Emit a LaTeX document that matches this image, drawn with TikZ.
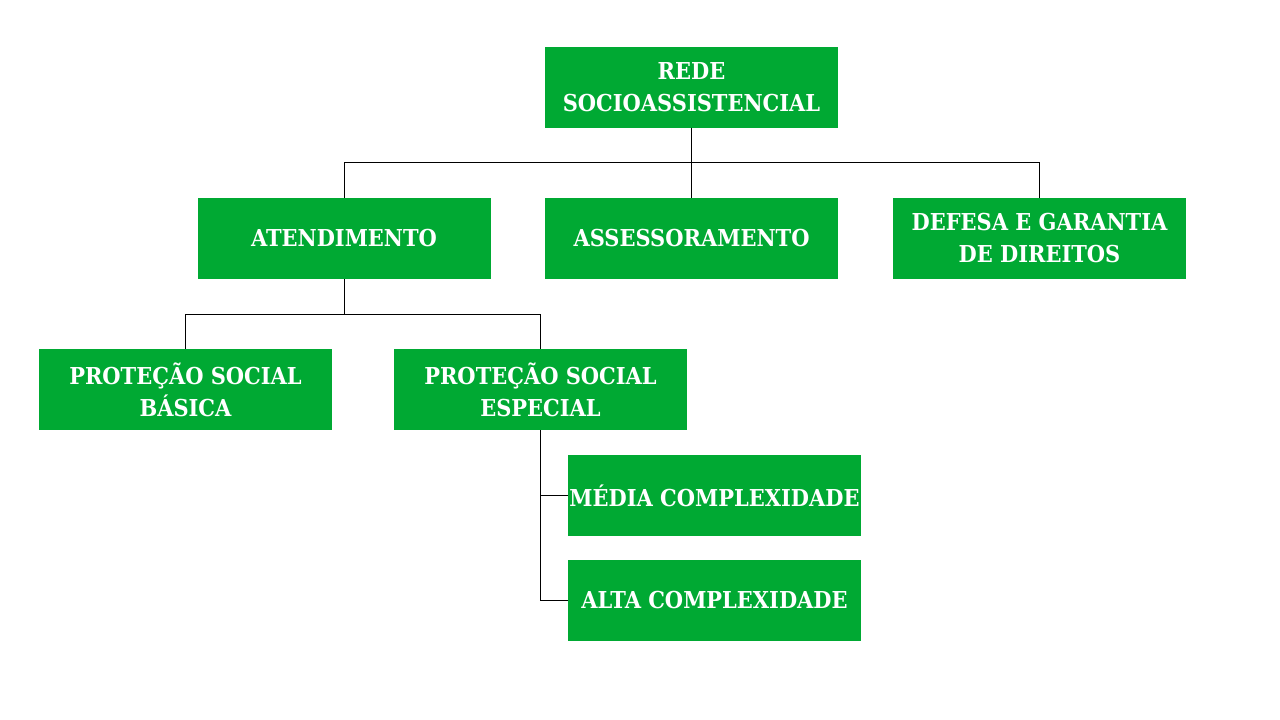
\documentclass[tikz,border=0pt]{standalone}
\usepackage{fontspec}
\newfontfamily\boxfont{DejaVu Serif Condensed}[BoldFont={DejaVu Serif Condensed Bold}]
\definecolor{boxgreen}{HTML}{00A933}
\tikzset{
  gbox/.style={fill=boxgreen, draw=none, text=white, minimum width=293pt, minimum height=81pt,
    inner sep=0pt, align=center, font=\boxfont\bfseries\fontsize{23.3}{32}\selectfont},
  conn/.style={draw=black, line width=1pt}
}
\begin{document}
\begin{tikzpicture}[x=1pt,y=-1pt]
\useasboundingbox[fill=white] (0,0) rectangle (1280,720);
\node[gbox] (rede) at (691.5,87) {REDE\\SOCIOASSISTENCIAL};
\node[gbox] (aten) at (344,238.5) {ATENDIMENTO};
\node[gbox] (asse) at (691.5,238.5) {ASSESSORAMENTO};
\node[gbox] (defe) at (1039.5,238.5) {DEFESA E GARANTIA\\DE DIREITOS};
\node[gbox] (psb) at (185.5,389.5) {PROTEÇÃO SOCIAL\\BÁSICA};
\node[gbox] (pse) at (540.5,389.5) {PROTEÇÃO SOCIAL\\ESPECIAL};
\node[gbox] (media) at (714.5,495.5) {MÉDIA COMPLEXIDADE};
\node[gbox] (alta) at (714.5,600.5) {ALTA COMPLEXIDADE};
\draw[conn] (rede.south) -- ++(0,35) -| (aten.north);
\draw[conn] (rede.south) -- ++(0,35) -| (defe.north);
\draw[conn] (rede.south) -- (asse.north);
\draw[conn] (aten.south) -- ++(0,35) -| (psb.north);
\draw[conn] (aten.south) -- ++(0,35) -| (pse.north);
\draw[conn] (pse.south) |- (media.west);
\draw[conn] (pse.south) |- (alta.west);
\end{tikzpicture}
\end{document}
